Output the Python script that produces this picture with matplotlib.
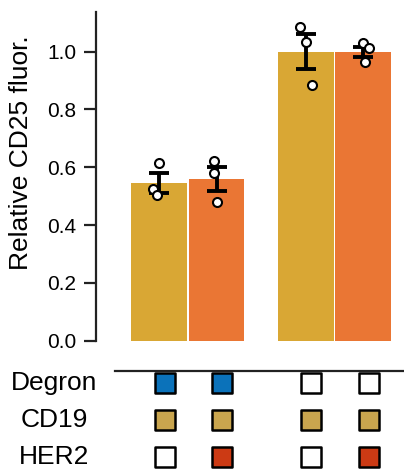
import matplotlib
matplotlib.use("Agg")
import matplotlib.pyplot as plt

plt.rcParams['font.family'] = ['Liberation Sans', 'DejaVu Sans']

# datos
bar_means = [0.545, 0.56, 1.0, 1.0]
bar_errors = [0.035, 0.042, 0.06, 0.017]
replicates = [
    [0.614, 0.525, 0.504],
    [0.622, 0.579, 0.480],
    [1.084, 1.032, 0.885],
    [1.029, 1.012, 0.963],
]
jitter = [
    [0.0, -0.1, -0.03],
    [-0.05, -0.05, 0.0],
    [-0.1, 0.0, 0.11],
    [-0.01, 0.11, 0.04],
]
bar_colors = ['#D9A734', '#EA7634', '#D9A734', '#EA7634']

row_names = ['Degron', 'CD19', 'HER2']
row_colors = ['#0B72BA', '#C9A54E', '#CC3A14']
# 1 = presente, 0 = ausente
table = [
    [1, 1, 0, 0],
    [1, 1, 1, 1],
    [0, 1, 0, 1],
]

x_pos = [0, 1, 2.55, 3.55]

fig = plt.figure(figsize=(4.04, 4.73), dpi=100)
ax = fig.add_axes([96 / 404, 1 - 340.7 / 473, 1 - 96 / 404, (340.7 - 12) / 473])

ax.bar(x_pos, bar_means, width=0.97, color=bar_colors, zorder=1)
ax.errorbar(x_pos, bar_means, yerr=bar_errors, fmt='none', ecolor='black',
            elinewidth=2.8, capsize=7.5, capthick=2.8, zorder=2)
for i, pts in enumerate(replicates):
    xs = [x_pos[i] + j for j in jitter[i]]
    ax.scatter(xs, pts, s=42, facecolor='white', edgecolor='black',
               linewidth=1.5, zorder=3)

ax.set_xlim(-1.096, 4.26)
ax.set_ylim(0, 1.137)
ax.set_yticks([0, 0.2, 0.4, 0.6, 0.8, 1.0])
ax.set_yticklabels(['0.0', '0.2', '0.4', '0.6', '0.8', '1.0'])
ax.tick_params(axis='y', labelsize=15, length=9, width=1.6, pad=5, color='#222222')
ax.set_xticks([])
ax.set_ylabel('Relative CD25 fluor.', fontsize=19)
ax.yaxis.set_label_coords(-0.205, 0.571)

ax.spines['top'].set_visible(False)
ax.spines['right'].set_visible(False)
ax.spines['left'].set_linewidth(1.6)
ax.spines['left'].set_color('#222222')
ax.spines['bottom'].set_position(('outward', 22))
ax.spines['bottom'].set_bounds(-0.765, 4.26)
ax.spines['bottom'].set_linewidth(1.6)
ax.spines['bottom'].set_color('#222222')

# tabla de condiciones debajo del eje
row_y = [-0.145, -0.274, -0.402]
row_label_y = [382.7, 420, 457]
for r, name in enumerate(row_names):
    fig.text(54 / 404, 1 - row_label_y[r] / 473, name, fontsize=19,
             ha='center', va='center')
    for c, x in enumerate(x_pos):
        face = row_colors[r] if table[r][c] else 'white'
        ax.scatter([x + 0.1], [row_y[r]], marker='s', s=190, facecolor=face,
                   edgecolor='black', linewidth=1.8, clip_on=False, zorder=4)

fig.savefig('out.png', dpi=100)
